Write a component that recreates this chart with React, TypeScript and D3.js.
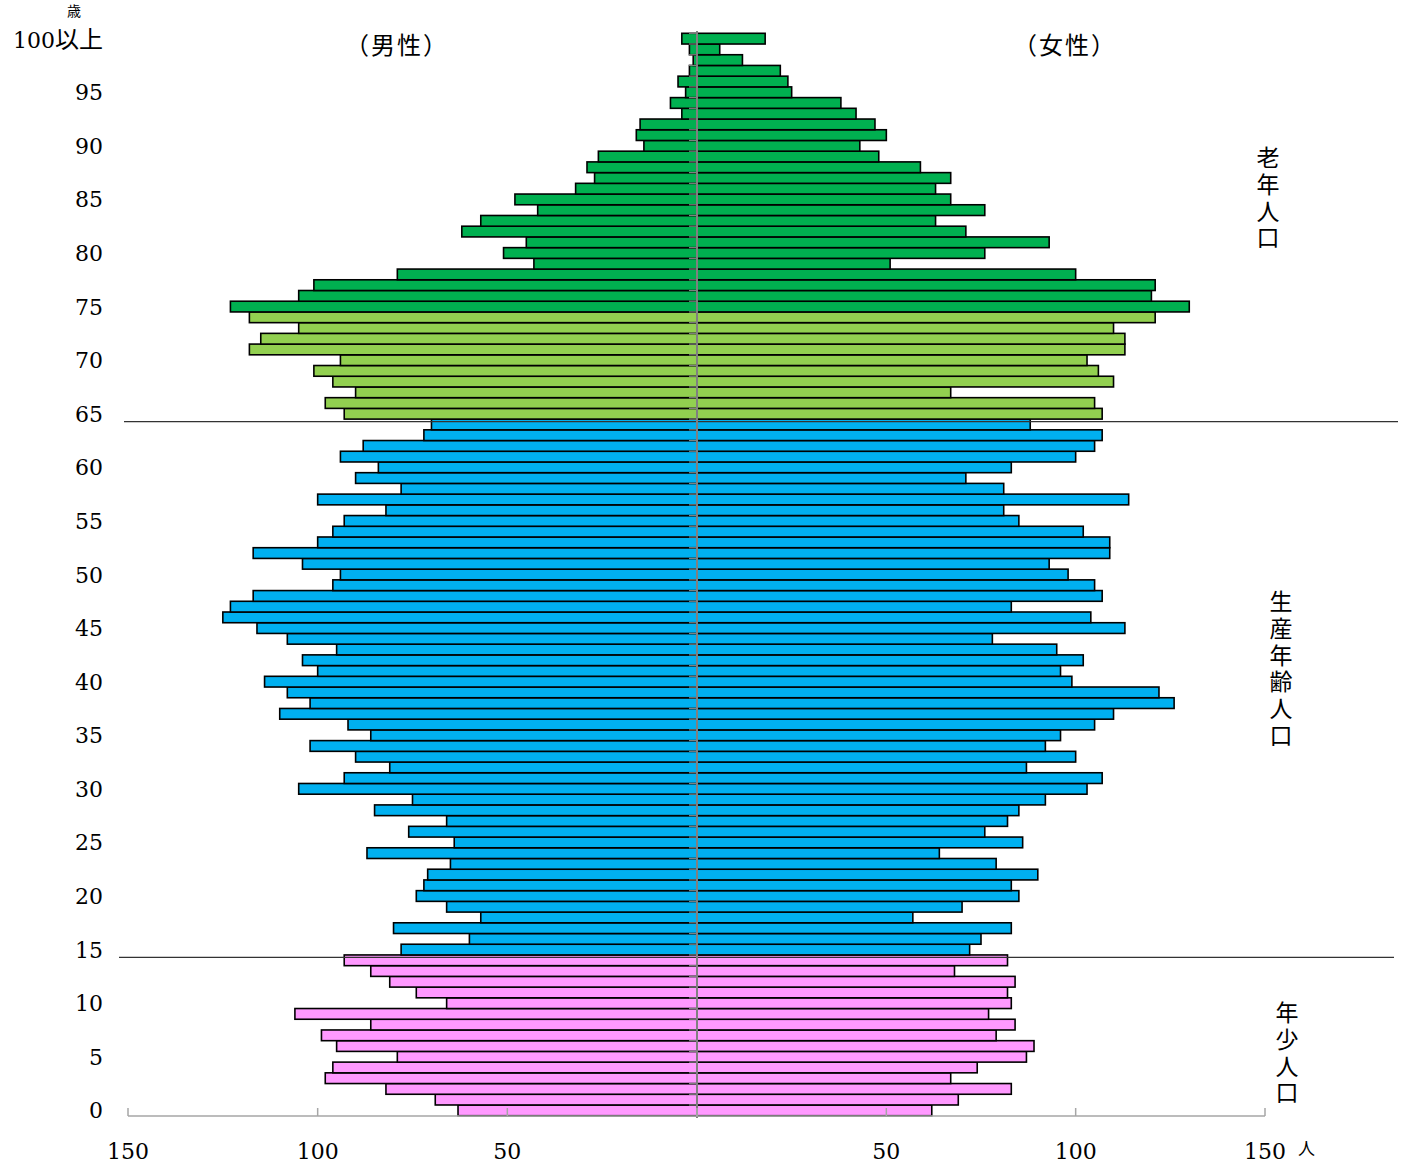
import * as React from "react";
import * as d3 from "d3";

// ages 0 .. 100 (100 = 100以上)
const ages = d3.range(0, 101);

const male = [
  63, 69, 82, 98, 96, 79, 95, 99, 86, 106,
  66, 74, 81, 86, 93, 78, 60, 80, 57, 66,
  74, 72, 71, 65, 87, 64, 76, 66, 85, 75,
  105, 93, 81, 90, 102, 86, 92, 110, 102, 108,
  114, 100, 104, 95, 108, 116, 125, 123, 117, 96,
  94, 104, 117, 100, 96, 93, 82, 100, 78, 90,
  84, 94, 88, 72, 70, 93, 98, 90, 96, 101,
  94, 118, 115, 105, 118, 123, 105, 101, 79, 43,
  51, 45, 62, 57, 42, 48, 32, 27, 29, 26,
  14, 16, 15, 4, 7, 3, 5, 2, 1, 2,
  4,
];

const female = [
  62, 69, 83, 67, 74, 87, 89, 79, 84, 77,
  83, 82, 84, 68, 82, 72, 75, 83, 57, 70,
  85, 83, 90, 79, 64, 86, 76, 82, 85, 92,
  103, 107, 87, 100, 92, 96, 105, 110, 126, 122,
  99, 96, 102, 95, 78, 113, 104, 83, 107, 105,
  98, 93, 109, 109, 102, 85, 81, 114, 81, 71,
  83, 100, 105, 107, 88, 107, 105, 67, 110, 106,
  103, 113, 113, 110, 121, 130, 120, 121, 100, 51,
  76, 93, 71, 63, 76, 67, 63, 67, 59, 48,
  43, 50, 47, 42, 38, 25, 24, 22, 12, 6,
  18,
];

const xTicks = [0, 50, 100, 150];
const ageLabels = d3.range(0, 100, 5);
const groups = [
  { name: "老年人口", x: 1268, y: 146 },
  { name: "生産年齢人口", x: 1281, y: 590 },
  { name: "年少人口", x: 1287, y: 1001 },
];

const serif = "'DejaVu Serif', 'Liberation Serif', serif";
const jp = "'Noto Sans CJK JP', sans-serif";

const colorOf = (age: number) =>
  age >= 75 ? "#00b050" : age >= 65 ? "#92d050" : age >= 15 ? "#00b0f0" : "#ff99ff";

const App = () => {
  const width = 1406;
  const height = 1167;
  const cx = 697;

  const y = d3
    .scaleBand<number>()
    .domain(ages.slice().reverse())
    .range([33.3, 1115.7])
    .padding(0);
  const xMale = d3.scaleLinear().domain([0, 150]).range([cx, 128]);
  const xFemale = d3.scaleLinear().domain([0, 150]).range([cx, 1265]);
  const bh = y.bandwidth();
  const axisY = 1116;

  const lineAt = (age: number) => (y(age) as number) + bh + 2.5;

  return (
    <svg
      width={width}
      height={height}
      style={{ position: "absolute", left: 0, top: 0, background: "#fff" }}
    >
      {/* bars */}
      <g stroke="#000" strokeWidth={1.6}>
        {ages.map((a, i) => (
          <rect
            key={"m" + a}
            x={xMale(male[i])}
            y={y(a)}
            width={cx - xMale(male[i])}
            height={bh}
            fill={colorOf(a)}
          />
        ))}
        {ages.map((a, i) => (
          <rect
            key={"f" + a}
            x={cx}
            y={y(a)}
            width={xFemale(female[i]) - cx}
            height={bh}
            fill={colorOf(a)}
          />
        ))}
      </g>

      {/* group separators */}
      <line x1={124} x2={1398} y1={lineAt(65)} y2={lineAt(65)} stroke="#333" strokeWidth={1.2} />
      <line x1={119} x2={1394} y1={lineAt(15)} y2={lineAt(15)} stroke="#333" strokeWidth={1.2} />

      {/* center axis */}
      <line x1={cx} x2={cx} y1={31} y2={axisY + 2} stroke="#808080" strokeWidth={2} />
      <g stroke="#808080" strokeWidth={1.2}>
        {ages.map(a => (
          <line key={a} x1={cx - 8} x2={cx} y1={y(a)} y2={y(a)} />
        ))}
      </g>

      {/* bottom axis */}
      <line x1={128} x2={1265} y1={axisY} y2={axisY} stroke="#a6a6a6" strokeWidth={1.5} />
      <g stroke="#a6a6a6" strokeWidth={1.5}>
        {xTicks.map(t => (
          <line key={"tm" + t} x1={xMale(t)} x2={xMale(t)} y1={axisY} y2={axisY - 8} />
        ))}
        {xTicks.map(t => (
          <line key={"tf" + t} x1={xFemale(t)} x2={xFemale(t)} y1={axisY} y2={axisY - 8} />
        ))}
      </g>
      <g fontFamily={serif} fontSize={22} textAnchor="middle" fill="#000">
        {xTicks.filter(t => t > 0).map(t => (
          <text key={"lm" + t} x={xMale(t)} y={1159}>{t}</text>
        ))}
        {xTicks.filter(t => t > 0).map(t => (
          <text key={"lf" + t} x={xFemale(t)} y={1159}>{t}</text>
        ))}
      </g>
      <text x={1298} y={1155} fontFamily={jp} fontSize={17}>人</text>

      {/* age labels */}
      <g fontFamily={serif} fontSize={22} textAnchor="end" fill="#000">
        {ageLabels.map(a => (
          <text key={a} x={103} y={(y(a) as number) + bh / 2 + 8}>{a}</text>
        ))}
      </g>
      <text x={103} y={48} textAnchor="end" fill="#000">
        <tspan fontFamily={serif} fontSize={22}>100</tspan>
        <tspan fontFamily={jp} fontSize={24}>以上</tspan>
      </text>
      <text x={74} y={16} textAnchor="middle" fontFamily={jp} fontSize={14}>歳</text>

      {/* headers */}
      <text x={397} y={54} textAnchor="middle" fontFamily={jp} fontSize={24} letterSpacing={2}>（男性）</text>
      <text x={1065} y={54} textAnchor="middle" fontFamily={jp} fontSize={24} letterSpacing={2}>（女性）</text>

      {/* group names, vertical */}
      {groups.map(g => (
        <text
          key={g.name}
          x={g.x}
          y={g.y}
          fontFamily={jp}
          fontSize={23}
          letterSpacing={3.7}
          style={{ writingMode: "vertical-rl" }}
          fill="#000"
        >
          {g.name}
        </text>
      ))}
    </svg>
  );
};

export default App;
